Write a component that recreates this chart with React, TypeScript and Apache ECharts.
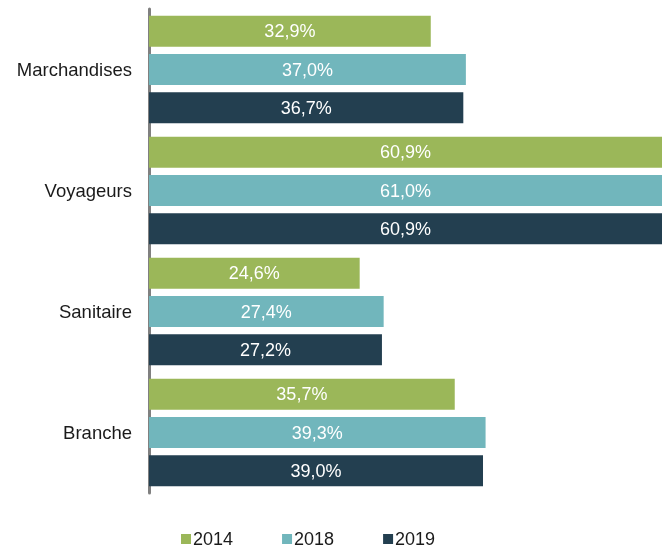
import React, { useEffect, useRef } from "react";
import * as echarts from "echarts";

const categories = ["Marchandises", "Voyageurs", "Sanitaire", "Branche"];
const seriesNames = ["2014", "2018", "2019"];
const values2014 = [32.9, 60.9, 24.6, 35.7];
const values2018 = [37.0, 61.0, 27.4, 39.3];
const values2019 = [36.7, 60.9, 27.2, 39.0];
const colors = ["#9BB759", "#71B6BC", "#233F50"];

export default function App() {
  const ref = useRef<HTMLDivElement>(null);
  useEffect(() => {
    if (!ref.current) return;
    const chart = echarts.init(ref.current, undefined, { renderer: "svg" });
    const font = "Liberation Sans, Arial, sans-serif";
    const data = [values2014, values2018, values2019];
    chart.setOption({
      animation: false,
      textStyle: { fontFamily: font },
      grid: { left: 149, right: 0, top: 9, height: 484 },
      legend: {
        data: seriesNames,
        left: 181,
        top: 530,
        padding: 0,
        icon: "rect",
        itemWidth: 10,
        itemHeight: 10,
        itemGap: 49,
        textStyle: {
          fontSize: 18,
          lineHeight: 18,
          color: "#1a1a1a",
          fontFamily: font,
          padding: [0, 0, 0, -3],
        },
      },
      xAxis: {
        type: "value",
        min: 0,
        max: 59.9,
        show: false,
      },
      yAxis: {
        type: "category",
        data: categories,
        inverse: true,
        axisLine: { show: true, lineStyle: { color: "#808080", width: 3 } },
        axisTick: { show: false },
        axisLabel: { fontSize: 18.5, color: "#1a1a1a", margin: 17, fontFamily: font },
      },
      series: seriesNames.map((name, i) => ({
        name,
        type: "bar",
        data: data[i],
        barWidth: 31,
        barGap: "23%",
        itemStyle: { color: colors[i] },
        label: {
          show: true,
          position: "inside",
          color: "#ffffff",
          fontSize: 18,
          fontFamily: font,
          formatter: (p: any) => p.value.toFixed(1).replace(".", ",") + "%",
        },
      })),
    });
    return () => chart.dispose();
  }, []);
  return (
    <div
      ref={ref}
      style={{ position: "fixed", left: 0, top: 0, width: 662, height: 549 }}
    />
  );
}
